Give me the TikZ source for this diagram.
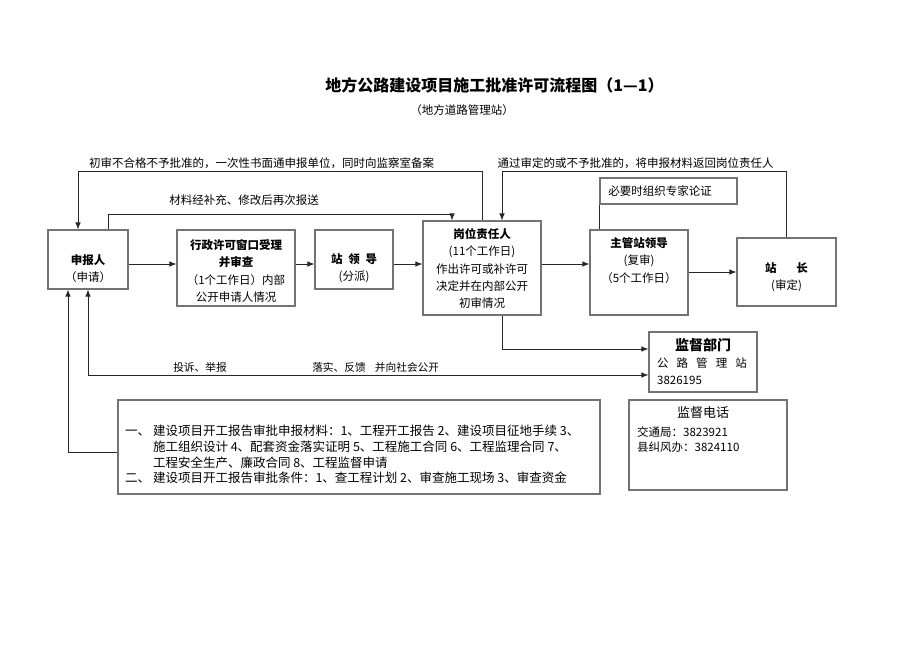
\documentclass[tikz,border=0pt]{standalone}
\usepackage{fontspec}
\setmainfont{Noto Sans CJK SC}
\usetikzlibrary{arrows.meta, positioning, calc}

\begin{document}
\begin{tikzpicture}[
    x=1pt, y=-1pt,
    box/.style={rectangle, draw=black!55, line width=1.2pt, inner sep=0pt},
    txt/.style={inner sep=0pt, align=center, font=\fontsize{11.5}{17.3}\selectfont},
    small/.style={txt, font=\fontsize{10.7}{12}\selectfont},
    rel/.style={->, line width=0.8pt, draw=black!85, >={Latex[length=7pt,width=5.5pt]}},
    plain/.style={line width=0.8pt, draw=black!85}
]
\useasboundingbox (0,0) rectangle (920,651);
\fill[white] (0,0) rectangle (920,651);

% 标题
\node[inner sep=0pt, font=\fontsize{16}{18}\selectfont\bfseries] (title) at (494.5,85.5) {地方公路建设项目施工批准许可流程图（1—1）};
\node[txt] (subtitle) at (462,110) {（地方道路管理站）};

% 流程框
\node[box, minimum width=80, minimum height=59] (sbr) at (88,259.5) {};
\node[box, minimum width=118, minimum height=76] (xz) at (236,268) {};
\node[box, minimum width=78, minimum height=59] (zld) at (354,259.5) {};
\node[box, minimum width=118, minimum height=94] (gw) at (482,268) {};
\node[box, minimum width=98, minimum height=85] (zg) at (639,272.5) {};
\node[box, minimum width=99, minimum height=68] (zz) at (786.5,272) {};
\node[box, minimum width=137, minimum height=26] (zj) at (668.5,191) {};
\node[box, minimum width=108, minimum height=60] (jd) at (703,362) {};
\node[box, minimum width=482, minimum height=94] (info) at (359,447) {};
\node[box, minimum width=158, minimum height=90] (dh) at (708,445) {};

% 框内文字
\node[txt] (sbr-t) at (88,268.5) {\textbf{申报人}\\（申请）};
\node[txt] (xz-t) at (236,271) {\textbf{行政许可窗口受理}\\\textbf{并审查}\\（1个工作日）内部\\公开申请人情况};
\node[txt] (zld-t) at (354,268.5) {\textbf{站\hspace{0.5em}领\hspace{0.5em}导}\\(分派)};
\node[txt] (gw-t) at (482,268.5) {\textbf{岗位责任人}\\(11个工作日)\\作出许可或补许可\\决定并在内部公开\\初审情况};
\node[txt] (zg-t) at (639,260.5) {\textbf{主管站领导}\\(复审)\\（5个工作日）};
\node[txt] (zz-t) at (786.5,277.5) {\textbf{站\hspace{1.7em}长}\\(审定)};
\node[txt] (zj-t) at (660,191) {必要时组织专家论证};
\node[txt, font=\fontsize{14}{16}\selectfont\bfseries] (jd-t1) at (703,345) {监督部门};
\node[txt] (jd-t2) at (702,363) {公\hspace{0.7em}路\hspace{0.7em}管\hspace{0.7em}理\hspace{0.7em}站};
\node[txt, anchor=west] (jd-t3) at (657,380) {3826195};
\node[txt, anchor=west, align=left, font=\fontsize{12.5}{15.7}\selectfont] (info-t) at (125,454.5)
  {一、 建设项目开工报告审批申报材料：1、工程开工报告 2、建设项目征地手续 3、\\
   \phantom{一、 }施工组织设计 4、配套资金落实证明 5、工程施工合同 6、工程监理合同 7、\\
   \phantom{一、 }工程安全生产、廉政合同 8、工程监督申请\\
   二、 建设项目开工报告审批条件：1、查工程计划 2、审查施工现场 3、审查资金};
\node[txt, font=\fontsize{13}{15}\selectfont] (dh-t1) at (703,413) {监督电话};
\node[txt, anchor=west] (dh-t2) at (637,432) {交通局：3823921};
\node[txt, anchor=west] (dh-t3) at (637,447) {县纠风办：3824110};

% 主流程
\coordinate (row) at (0,264);
\draw[rel] (sbr.east |- row) -- (xz.west |- row);
\draw[rel] (xz.east |- row) -- (zld.west |- row);
\draw[rel] (zld.east |- row) -- (gw.west |- row);
\draw[rel] (gw.east |- row) -- (zg.west |- row);
\draw[rel] (zg.east |- zz.west) -- (zz.west);

% 返回线
\coordinate (top1) at (0,171);
\coordinate (top2) at (0,214);
\draw[rel] (gw.north) -- (gw.north |- top1) -| ([xshift=-10]sbr.north);
\draw[rel] ([xshift=20]sbr.north) -- ([xshift=20]sbr.north |- top2) -| ([xshift=-30]gw.north);
\draw[rel] (zz.north) -- (zz.north |- top1) -| ([xshift=20]gw.north);
\draw[plain] (zj.south west) -- (zj.south west |- zg.north);

% 监督线
\draw[rel] ([xshift=20]gw.south) |- ([yshift=13]jd.west);
\draw[rel, <->] (sbr.south) |- ([yshift=-13]jd.west);
\draw[rel] ([yshift=-5]info.west) -| ([xshift=-20]sbr.south);

% 连线文字
\node[txt] (lbl-back) at (261.5,163) {初审不合格不予批准的，一次性书面通申报单位，同时向监察室备案};
\node[txt] (lbl-resend) at (244,200) {材料经补充、修改后再次报送};
\node[txt] (lbl-return) at (635.5,163) {通过审定的或不予批准的，将申报材料返回岗位责任人};
\node[small] (lbl-report) at (200,367) {投诉、举报};
\node[small] (lbl-feed) at (339,367) {落实、反馈};
\node[small] (lbl-public) at (407,367) {并向社会公开};

\end{tikzpicture}
\end{document}
